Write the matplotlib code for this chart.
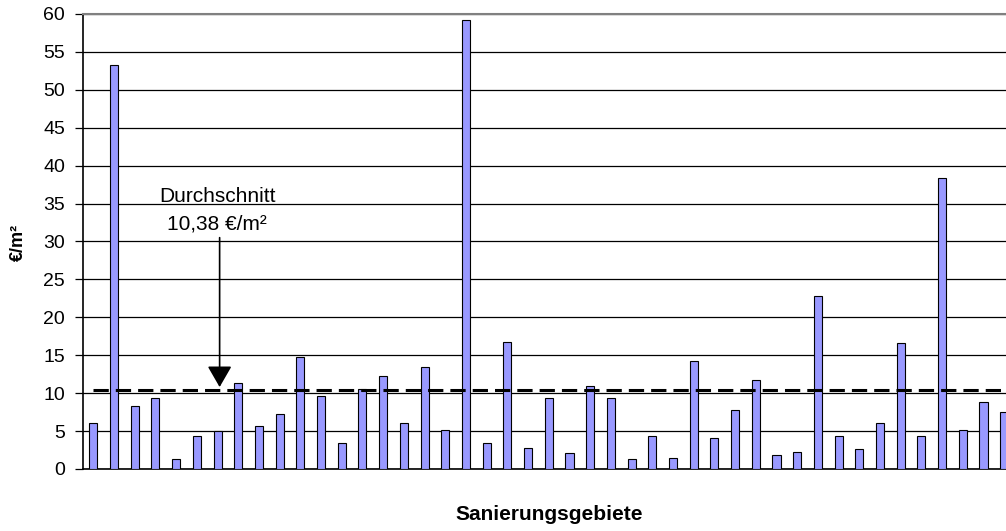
import numpy as np
import matplotlib
matplotlib.use('Agg')
from matplotlib import pyplot as plt

plt.rcParams['font.family'] = ['Liberation Sans', 'DejaVu Sans']

# Kosten je Sanierungsgebiet in Euro pro m2
werte = [6.0, 53.2, 8.3, 9.4, 1.3, 4.4, 5.0, 11.4, 5.7, 7.3,
         14.8, 9.6, 3.4, 10.6, 12.2, 6.0, 13.5, 5.2, 59.2, 3.4,
         16.8, 2.8, 9.3, 2.1, 10.9, 9.3, 1.3, 4.4, 1.5, 14.2,
         4.1, 7.8, 11.7, 1.8, 2.3, 22.8, 4.4, 2.6, 6.0, 16.6,
         4.4, 38.3, 5.1, 8.8, 7.5]
durchschnitt = 10.38
yticks = list(range(0, 61, 5))

fig = plt.figure(figsize=(10.06, 5.31), dpi=100)
ax = fig.add_axes([0.0825, 0.1168, 0.926, 0.857])

x = np.arange(len(werte))
ax.bar(x, werte, width=0.39, color='#9999ff', edgecolor='black', linewidth=0.8, zorder=3)

# Durchschnittslinie
ax.plot([x[0], x[-1]], [durchschnitt, durchschnitt], color='black', lw=2.2,
        dashes=(5, 2.3), zorder=4)

ax.annotate('', xy=(6.1, 10.8), xytext=(6.1, 30.5),
            arrowprops=dict(arrowstyle='-|>,head_length=1.3,head_width=0.75',
                            color='black', lw=1.2, shrinkA=0, shrinkB=0), zorder=5)
ax.text(5.98, 35.25, 'Durchschnitt', ha='center', va='baseline', fontsize=15)
ax.text(5.98, 31.6, '10,38 €/m²', ha='center', va='baseline', fontsize=15)

ax.set_xlim(-0.5, len(werte) - 0.5)
ax.set_ylim(0, 60)
ax.set_yticks(yticks)
ax.set_xticks([])
ax.yaxis.grid(True, color='black', lw=0.9, zorder=0)
ax.tick_params(axis='y', length=6, width=0.9, labelsize=14, pad=7)

ax.spines['right'].set_visible(False)
ax.spines['top'].set_color('#808080')
ax.spines['top'].set_linewidth(1.5)
ax.spines['left'].set_linewidth(1.2)
ax.spines['bottom'].set_linewidth(1.2)

fig.text(18 / 1006, 1 - 242 / 531, '€/m²', rotation=90, ha='center', va='center',
         fontsize=13, fontweight='bold')
ax.set_xlabel('Sanierungsgebiete', fontsize=15, fontweight='bold', labelpad=26)

fig.savefig('out.png', dpi=100)
